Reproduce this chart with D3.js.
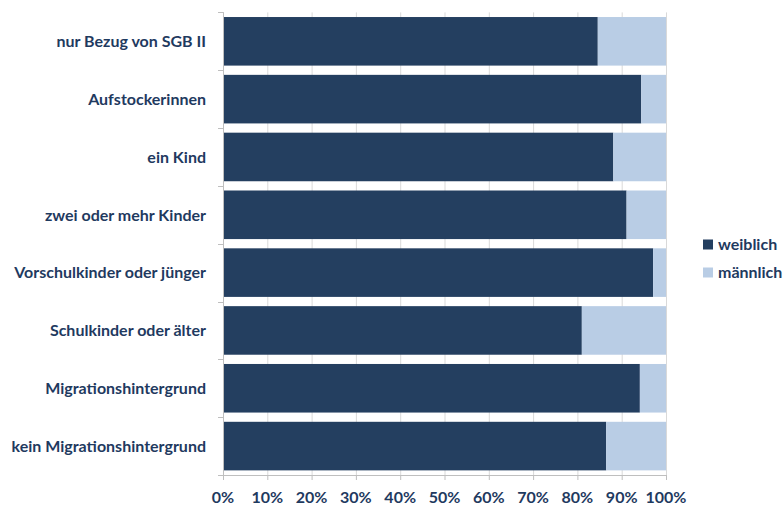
<!DOCTYPE html>
<html><head><meta charset="utf-8">
<script src="https://cdn.jsdelivr.net/npm/d3@7"></script>
<style>body{margin:0;background:#fff}svg{display:block}</style>
</head><body>
<svg id="c" width="784" height="505"></svg>
<script>
const categories = ["nur Bezug von SGB II","Aufstockerinnen","ein Kind","zwei oder mehr Kinder","Vorschulkinder oder jünger","Schulkinder oder älter","Migrationshintergrund","kein Migrationshintergrund"];
const weiblich = [84.6, 94.4, 88.1, 91.1, 97.1, 81.0, 94.1, 86.5];
const maennlich = weiblich.map(v => 100 - v);
const seriesNames = ["weiblich","männlich"];
const xTicks = [0,10,20,30,40,50,60,70,80,90,100];

const colors = ["#243f60","#b9cde5"];
const textColor = "#1f3a5f";
const font = "Lato, 'Open Sans', sans-serif";
const fs = "16px";
const svg = d3.select("#c");
const x = d3.scaleLinear().domain([0,100]).range([223,666]);
const y = d3.scaleBand().domain(categories).range([12.4,475]).paddingInner(0.16).paddingOuter(0.08);

// gridlines
svg.append("g").selectAll("line").data(xTicks).join("line")
  .attr("x1",d=>x(d)+0.5).attr("x2",d=>x(d)+0.5).attr("y1",12.4).attr("y2",475)
  .attr("stroke",d=>d===0?"#bfbfbf":"#d9d9d9").attr("stroke-width",1);

const data = categories.map((c,i)=>({c, w:weiblich[i], m:maennlich[i]}));
const stack = d3.stack().keys(["w","m"])(data);
svg.append("g").selectAll("g").data(stack).join("g").attr("fill",(d,i)=>colors[i])
  .selectAll("rect").data(d=>d).join("rect")
  .attr("x",d=>x(d[0])).attr("width",d=>x(d[1])-x(d[0]))
  .attr("y",d=>y(d.data.c)).attr("height",y.bandwidth());

// left axis
const yl = svg.append("g");
yl.append("line").attr("x1",223.5).attr("x2",223.5).attr("y1",12.4).attr("y2",475).attr("stroke","#bfbfbf");
const bounds = categories.map(c=>y(c)-y.step()*y.paddingInner()/2).concat([475]);
yl.selectAll("line.t").data(bounds).join("line").attr("class","t")
  .attr("x1",218).attr("x2",223.5).attr("y1",d=>Math.round(d)+0.5).attr("y2",d=>Math.round(d)+0.5).attr("stroke","#bfbfbf");
yl.selectAll("text").data(categories).join("text")
  .attr("x",206).attr("y",d=>y(d)+y.bandwidth()/2).attr("dy","0.36em")
  .attr("text-anchor","end").attr("fill",textColor)
  .style("font-family",font).style("font-weight","bold").style("font-size",fs).text(d=>d);

// bottom axis
const xa = svg.append("g");
xa.append("line").attr("x1",223).attr("x2",666.5).attr("y1",475.5).attr("y2",475.5).attr("stroke","#bfbfbf");
xa.selectAll("line.t").data(xTicks).join("line").attr("class","t")
  .attr("x1",d=>x(d)+0.5).attr("x2",d=>x(d)+0.5).attr("y1",475).attr("y2",480).attr("stroke","#bfbfbf");
xa.selectAll("text").data(xTicks).join("text")
  .attr("x",d=>x(d)).attr("y",503).attr("text-anchor","middle").attr("fill",textColor)
  .style("font-family",font).style("font-weight","bold").style("font-size",fs).text(d=>d+"%");

// legend
const lg = svg.append("g");
seriesNames.forEach((n,i)=>{
  lg.append("rect").attr("x",703).attr("y",239.5+i*28).attr("width",10).attr("height",10).attr("fill",colors[i]);
  lg.append("text").attr("x",718).attr("y",249.5+i*28).attr("fill",textColor)
    .style("font-family",font).style("font-weight","bold").style("font-size",fs).text(n);
});
</script>
</body></html>
